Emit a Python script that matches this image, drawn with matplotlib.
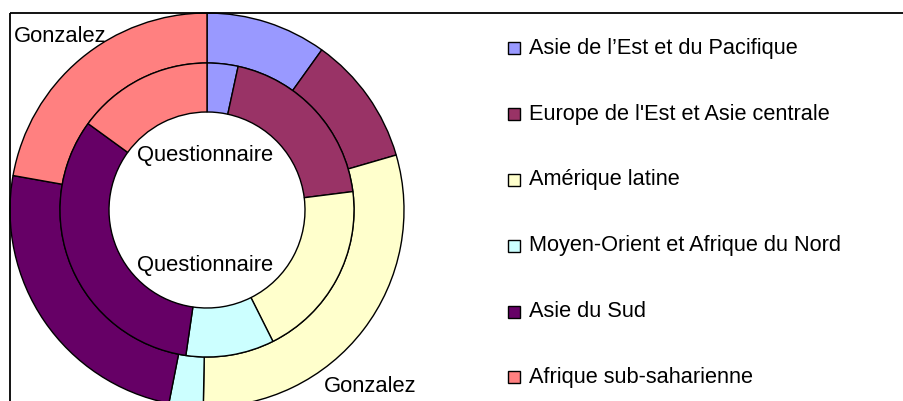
import matplotlib
matplotlib.use("Agg")
import matplotlib.pyplot as plt
from matplotlib.patches import Rectangle

plt.rcParams['font.family'] = ['Liberation Sans', 'DejaVu Sans']

categories = ["Asie de l\u2019Est et du Pacifique",
              "Europe de l'Est et Asie centrale",
              "Am\u00e9rique latine",
              "Moyen-Orient et Afrique du Nord",
              "Asie du Sud",
              "Afrique sub-saharienne"]
colors = ["#9999FF", "#993366", "#FFFFCC", "#CCFFFF", "#660066", "#FF8080"]

gonzalez = [9.9, 10.6, 29.8, 2.8, 24.7, 22.2]        # outer ring
questionnaire = [3.4, 19.6, 19.6, 9.7, 32.7, 15.0]   # inner ring

W, H = 904, 401
fig = plt.figure(figsize=(W / 100, H / 100), dpi=100)

# pie axes: center (207,210) px, radius 197 px
cx, cy, R = 207, 210, 197
ax = fig.add_axes([(cx - R) / W, (H - (cy + R)) / H, 2 * R / W, 2 * R / H])
ax.set_xlim(-1, 1)
ax.set_ylim(-1, 1)
ax.set_aspect('equal')
ax.axis('off')

wp = dict(edgecolor='black', linewidth=1.0)
ax.pie(gonzalez, radius=1.0, colors=colors, startangle=90, counterclock=False,
       wedgeprops=dict(width=50 / 197, **wp))
ax.pie(questionnaire, radius=147 / 197, colors=colors, startangle=90, counterclock=False,
       wedgeprops=dict(width=49 / 197, **wp))
ax.set_xlim(-1, 1)
ax.set_ylim(-1, 1)

# overlay axes in pixel coordinates
ov = fig.add_axes([0, 0, 1, 1])
ov.set_xlim(0, W)
ov.set_ylim(H, 0)
ov.axis('off')
ov.patch.set_alpha(0)

# frame lines
ov.plot([10, W], [13, 13], color='black', lw=1.3, solid_capstyle='butt')
ov.plot([10, 10], [13, H], color='black', lw=1.3, solid_capstyle='butt')

fs = 15.8
ov.text(60, 36, "Gonzalez", fontsize=fs, ha='center', va='center')
ov.text(370, 387, "Gonzalez", fontsize=fs, ha='center', va='center')
ov.text(205, 156, "Questionnaire", fontsize=fs, ha='center', va='center')
ov.text(205, 265, "Questionnaire", fontsize=fs, ha='center', va='center')

# legend
y0, dy = 48.3, 65.8
for i, (lab, c) in enumerate(zip(categories, colors)):
    y = y0 + i * dy
    ov.add_patch(Rectangle((508, y - 6), 12, 12, facecolor=c, edgecolor='black', lw=1.0))
    ov.text(529, y, lab, fontsize=15.7, ha='left', va='center')

fig.savefig("out.png", dpi=100)
